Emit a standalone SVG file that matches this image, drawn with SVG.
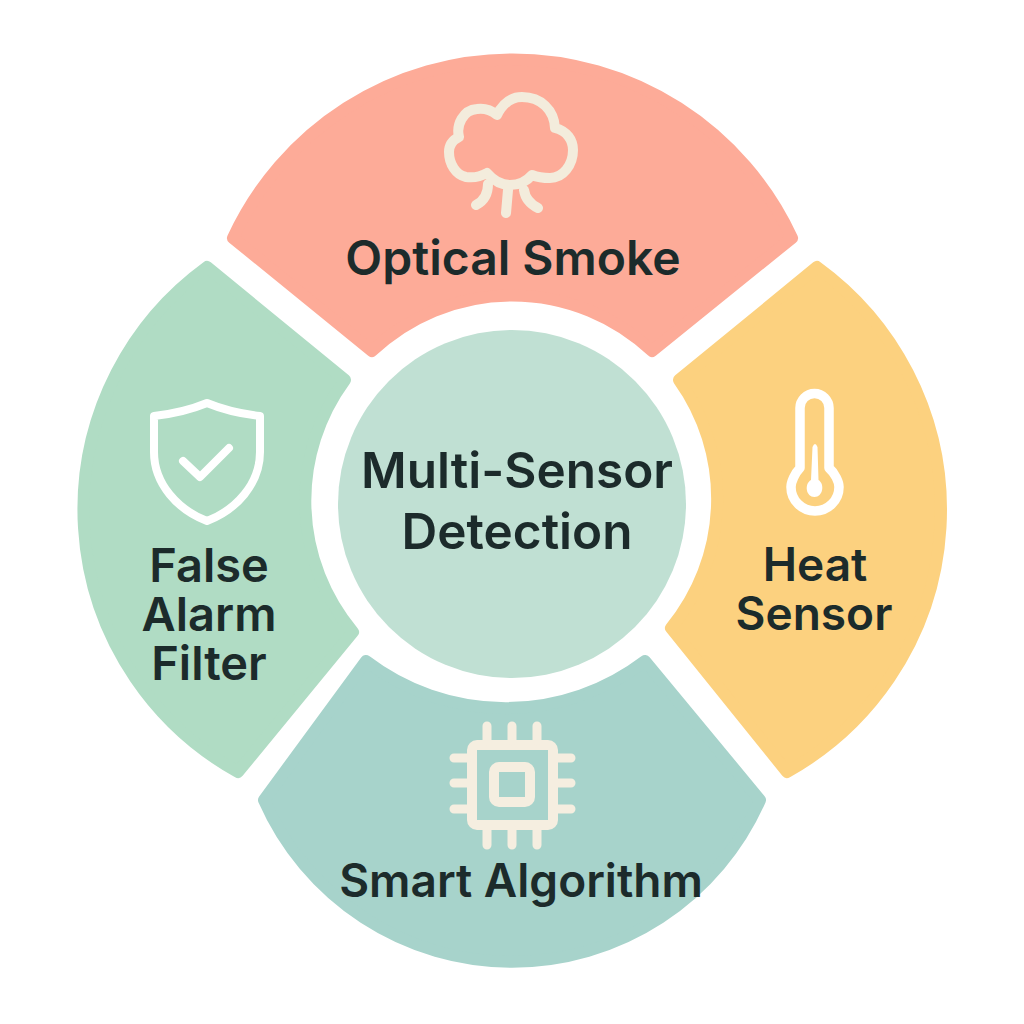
<svg xmlns="http://www.w3.org/2000/svg" width="1024" height="1024" viewBox="0 0 1024 1024">
<style>
.seg{stroke-linejoin:round;stroke-width:12}
.ic{fill:none;stroke-linecap:round;stroke-linejoin:round}
text{font-family:Inter,"Liberation Sans",sans-serif;font-weight:600;fill:#1c2b2b;text-anchor:middle}
.l{font-size:46px}
.m{font-size:47px}
.o{font-size:48px}
.c{font-size:49.5px}
</style>
<rect width="1024" height="1024" fill="#fff"/>
<g id="node-optical-smoke">
<path class="seg" fill="#fdab98" stroke="#fdab98" d="M233 238A308 308 0 0 1 792 238L652 351A204 204 0 0 0 372 351Z"/>
<path class="ic" stroke="#f3ecdc" stroke-width="10" d="M497 115C503 103 512 97 522 97C541 97 554 110 555 128C567 131 573 140 573 150C573 165 563 178 550 178C543 178 537 177 532 175C527 181 519 185 510 185C501 185 493 180 487 173C480 177 473 178 466 177C456 175 449 164 449 152C449 145 453 140 459 137C456 125 463 110 477 109C484 108 491 110 497 115Z"/>
<path class="ic" stroke="#f3ecdc" stroke-width="10" d="M488 184C488 194 484 201 476 205M508 190L506 213M524 190C525 197 530 204 538 208"/>
<text class="o" x="513" y="275">Optical Smoke</text>
</g>
<g id="node-heat-sensor">
<path class="seg" fill="#fcd17f" stroke="#fcd17f" d="M817 267A300 300 0 0 1 787 772L671 628A204 204 0 0 0 679 380Z"/>
<path class="ic" stroke="#fff" stroke-width="9.5" d="M800 468V408A14.500 14.500 0 0 1 829 408V468C835 473 839 482 839 487A24 24 0 0 1 791 487C791 482 795 473 800 468Z"/>
<path fill="#fff" d="M812.500 447Q815 441 817.500 447L818.500 480C825 484 823 497 814.500 497C806 497 804 484 811 480Z"/>
<text class="l" x="815" y="581">Heat</text>
<text class="l" x="814" y="630">Sensor</text>
</g>
<g id="node-smart-algorithm">
<path class="seg" fill="#a7d3cb" stroke="#a7d3cb" d="M366 661A230 230 0 0 0 645 661L760 800A271 271 0 0 1 264 800Z"/>
<g class="ic" stroke="#f5eee0">
<rect x="472" y="745" width="81" height="80" rx="5" stroke-width="10"/>
<rect x="494" y="767" width="36" height="35" rx="5" stroke-width="10"/>
<path stroke-width="9" d="M487 726V741M512 726V741M537 726V741M487 829V845M512 829V845M537 829V845M454 758H468M454 783H468M454 809H468M557 758H571M557 783H571M557 809H571"/>
</g>
<text class="l" x="521" y="897">Smart Algorithm</text>
</g>
<g id="node-false-alarm-filter">
<path class="seg" fill="#b0dcc4" stroke="#b0dcc4" d="M207 267A300 300 0 0 0 238 772L353 632A204 204 0 0 1 345 380Z"/>
<path class="ic" stroke="#fff" stroke-width="8" d="M207 403C190 410 172 414 154 416V452C154 484 178 510 207 521C236 510 260 484 260 452V416C242 414 224 410 207 403Z"/>
<path class="ic" stroke="#fff" stroke-width="8" d="M183 461L200 477L229 448"/>
<text class="m" x="209" y="582">False</text>
<text class="m" x="209" y="631">Alarm</text>
<text class="m" x="209" y="680">Filter</text>
</g>
<g id="node-center">
<circle cx="512" cy="504" r="174" fill="#c0e0d3"/>
<text class="c" x="517" y="488">Multi-Sensor</text>
<text class="c" x="517" y="549">Detection</text>
</g>
<g id="connectors"/>
</svg>
